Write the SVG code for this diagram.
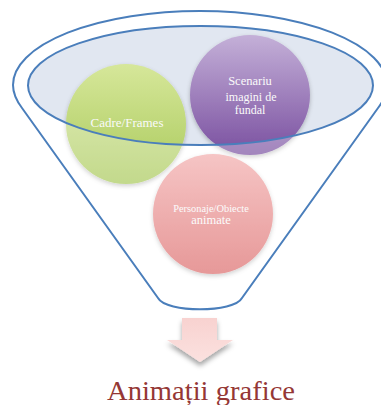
<svg xmlns="http://www.w3.org/2000/svg" width="381" height="405" viewBox="0 0 381 405">
<defs>
<style>
.edge{fill:none;stroke:#4a7ebb;stroke-width:2}
.lbl{font-family:"Liberation Serif",serif;fill:#fafafa;text-anchor:middle}
</style>
<linearGradient id="gG" x1="0" y1="0" x2="0" y2="1"><stop offset="0" stop-color="#d6e79a"/><stop offset="1" stop-color="#a9c95a"/></linearGradient>
<linearGradient id="gP" x1="0" y1="0" x2="0" y2="1"><stop offset="0" stop-color="#c4b0d8"/><stop offset="1" stop-color="#7a50a0"/></linearGradient>
<linearGradient id="gR" x1="0" y1="0" x2="0" y2="1"><stop offset="0" stop-color="#f2acac"/><stop offset="1" stop-color="#dc6c6c"/></linearGradient>
<linearGradient id="gA" x1="0" y1="0" x2="0" y2="1"><stop offset="0" stop-color="#f8d2d0"/><stop offset="1" stop-color="#fbe1df"/></linearGradient>
<filter id="sh" x="-20%" y="-20%" width="140%" height="140%"><feGaussianBlur in="SourceAlpha" stdDeviation="2"/><feOffset dx="0" dy="2" result="b"/><feFlood flood-color="#000" flood-opacity="0.25"/><feComposite in2="b" operator="in"/><feMerge><feMergeNode/><feMergeNode in="SourceGraphic"/></feMerge></filter>
<filter id="sh2" x="-30%" y="-30%" width="160%" height="170%"><feGaussianBlur in="SourceAlpha" stdDeviation="2.5"/><feOffset dx="0" dy="4" result="b"/><feFlood flood-color="#000" flood-opacity="0.35"/><feComposite in2="b" operator="in"/><feMerge><feMergeNode/><feMergeNode in="SourceGraphic"/></feMerge></filter>
</defs>
<g id="funnel-inner">
<ellipse cx="200.5" cy="85.5" rx="172.5" ry="59.5" fill="#e1e7f1"/>
</g>
<g id="node-cadre">
<circle cx="126" cy="124" r="60" fill="url(#gG)" filter="url(#sh)"/>
<text class="lbl" x="127" y="127" font-size="13">Cadre/Frames</text>
</g>
<g id="node-scenariu">
<circle cx="250" cy="95" r="60" fill="url(#gP)" filter="url(#sh)"/>
<text class="lbl" x="250" y="85" font-size="12.5">Scenariu</text>
<text class="lbl" x="251" y="101" font-size="12">imagini de</text>
<text class="lbl" x="250" y="114" font-size="12">fundal</text>
</g>
<g id="node-personaje">
<circle cx="213" cy="214" r="60" fill="url(#gR)" filter="url(#sh)"/>
<text class="lbl" x="211" y="212" font-size="10.4">Personaje/Obiecte</text>
<text class="lbl" x="211" y="224" font-size="12.5">animate</text>
</g>
<g id="funnel">
<path d="M22,108 C16,100 13,93 13,85 A187,74 0 0 1 387,85 C387,93 384,100 378,108 L242,298 C234,313 166,313 158,298 Z M28,85.5 A172.5,59.5 0 0 0 373,85.5 A172.5,59.5 0 0 0 28,85.5 Z" fill="#ffffff" fill-opacity="0.3" fill-rule="evenodd"/>
<path class="edge" d="M22,108 C16,100 13,93 13,85 A187,74 0 0 1 387,85 C387,93 384,100 378,108 L242,298 C234,313 166,313 158,298 Z"/>
<ellipse class="edge" cx="200.5" cy="85.5" rx="172.5" ry="59.5"/>
</g>
<g id="connectors">
<path d="M182,318 H217 V340 H233 L200,362 L167,340 H182 Z" fill="url(#gA)" filter="url(#sh2)"/>
</g>
<g id="result">
<text x="107" y="400" font-family="'Liberation Serif',serif" font-size="27" fill="#953735" textLength="188" lengthAdjust="spacingAndGlyphs">Animații grafice</text>
</g>
</svg>
